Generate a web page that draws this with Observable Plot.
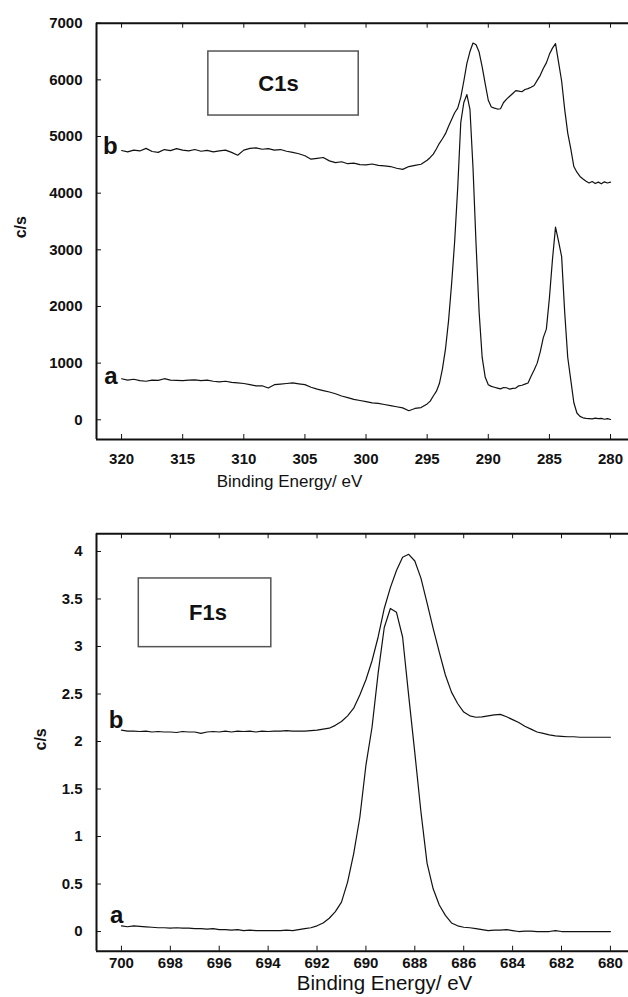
<!DOCTYPE html>
<html>
<head>
<meta charset="utf-8">
<script src="https://cdn.jsdelivr.net/npm/d3@7"></script>
<script src="https://cdn.jsdelivr.net/npm/@observablehq/plot@0.6"></script>
<style>
  body { margin: 0; background: #fff; }
  #chart { width: 628px; }
  #chart svg { display: block; }
</style>
</head>
<body>
<div id="chart"></div>
<script>
// ---- C1s region: binding energy (eV) and count rate (c/s) ----
const c1sEnergy = [
  320, 319.5, 319, 318.5, 318, 317.5, 317, 316.5, 316, 315.5,
  315, 314.5, 314, 313.5, 313, 312.5, 312, 311.5, 311, 310.5,
  310, 309.5, 309, 308.5, 308, 307.5, 307, 306.5, 306, 305.5,
  305, 304.5, 304, 303.5, 303, 302.5, 302, 301.5, 301, 300.5,
  300, 299.5, 299, 298.5, 298, 297.5, 297, 296.5, 296, 295.5,
  295, 294.75, 294.5, 294.25, 294, 293.75, 293.5, 293.25, 293, 292.75,
  292.5, 292.25, 292, 291.75, 291.5, 291.25, 291, 290.75, 290.5, 290.25,
  290, 289.75, 289.5, 289.25, 289, 288.75, 288.5, 288.25, 288, 287.75,
  287.5, 287.25, 287, 286.75, 286.5, 286.25, 286, 285.75, 285.5, 285.25,
  285, 284.75, 284.5, 284.25, 284, 283.75, 283.5, 283.25, 283, 282.75,
  282.5, 282.25, 282, 281.75, 281.5, 281.25, 281, 280.75, 280.5, 280.25,
  280
];
const c1sA = [
  724, 700, 715, 690, 680, 700, 695, 725, 700, 695,
  690, 700, 705, 690, 700, 680, 670, 680, 660, 650,
  640, 620, 600, 600, 560, 620, 630, 640, 650, 635,
  620, 575, 540, 515, 490, 460, 420, 390, 360, 340,
  320, 300, 290, 270, 250, 230, 210, 160, 200, 215,
  280, 330, 420, 500, 640, 900, 1250, 1750, 2400, 3150,
  4100, 5250, 5600, 5740, 5480, 4450, 3100, 1900, 1100, 750,
  620, 590, 575, 560, 545, 570, 565, 540, 555, 560,
  600, 610, 630, 650, 770, 880, 1000, 1200, 1450, 1600,
  2150, 2830, 3400, 3150, 2880, 1900, 1100, 700, 300, 120,
  60, 35, 25, 20, 15, 30, 20, 25, 10, 20,
  5
];
const c1sB = [
  4753, 4730, 4760, 4745, 4790, 4735, 4720, 4770, 4750, 4785,
  4760, 4745, 4770, 4740, 4755, 4730, 4745, 4760, 4720, 4670,
  4760, 4790, 4800, 4775, 4785, 4760, 4770, 4740, 4720, 4695,
  4660, 4600, 4615, 4630, 4570, 4540, 4555, 4520, 4530, 4505,
  4500, 4515, 4490, 4480, 4470, 4440, 4420, 4470, 4490, 4510,
  4580, 4630, 4690, 4780, 4880, 4960, 5050, 5180, 5300, 5420,
  5500, 5690, 5980, 6290, 6500, 6650, 6620, 6490, 6230, 5930,
  5640, 5520, 5500, 5485, 5490, 5600, 5660, 5710, 5760, 5810,
  5800, 5790, 5830, 5845, 5870, 5900, 5990, 6080, 6200, 6300,
  6450, 6560, 6640, 6310, 5980, 5480, 5060, 4780, 4470, 4370,
  4295, 4250, 4210, 4180, 4205, 4170, 4195, 4165, 4200, 4180,
  4195
];
const c1sTicksX = [320, 315, 310, 305, 300, 295, 290, 285, 280];
const c1sTicksY = [0, 1000, 2000, 3000, 4000, 5000, 6000, 7000];

// ---- F1s region ----
const f1sEnergy = [
  700, 699.75, 699.5, 699.25, 699, 698.75, 698.5, 698.25, 698, 697.75,
  697.5, 697.25, 697, 696.75, 696.5, 696.25, 696, 695.75, 695.5, 695.25,
  695, 694.75, 694.5, 694.25, 694, 693.75, 693.5, 693.25, 693, 692.75,
  692.5, 692.25, 692, 691.75, 691.5, 691.25, 691, 690.75, 690.5, 690.25,
  690, 689.75, 689.5, 689.25, 689, 688.75, 688.5, 688.25, 688, 687.75,
  687.5, 687.25, 687, 686.75, 686.5, 686.25, 686, 685.75, 685.5, 685.25,
  685, 684.75, 684.5, 684.25, 684, 683.75, 683.5, 683.25, 683, 682.75,
  682.5, 682.25, 682, 681.75, 681.5, 681.25, 681, 680.75, 680.5, 680.25,
  680
];
const f1sA = [
  0.06, 0.05, 0.06, 0.055, 0.05, 0.045, 0.04, 0.04, 0.035, 0.04,
  0.035, 0.035, 0.03, 0.03, 0.025, 0.03, 0.02, 0.02, 0.015, 0.02,
  0.01, 0.015, 0.01, 0.01, 0.01, 0.01, 0.01, 0.015, 0.01, 0.02,
  0.03, 0.04, 0.06, 0.09, 0.14, 0.21, 0.31, 0.52, 0.82, 1.2,
  1.75, 2.15, 2.72, 3.2, 3.4, 3.36, 3.1, 2.48, 1.88, 1.26,
  0.72, 0.45, 0.28, 0.17, 0.09, 0.06, 0.045, 0.04, 0.03, 0.02,
  0.01, 0.015, 0.015, 0.02, 0.01, 0, 0.005, 0.005, 0, 0,
  0, 0.01, 0, 0, 0, 0, 0, 0, 0, 0,
  0
];
const f1sB = [
  2.12, 2.11, 2.11, 2.105, 2.11, 2.1, 2.105, 2.1, 2.1, 2.095,
  2.105, 2.1, 2.1, 2.085, 2.1, 2.105, 2.1, 2.11, 2.1, 2.11,
  2.105, 2.11, 2.1, 2.11, 2.105, 2.11, 2.11, 2.115, 2.11, 2.11,
  2.11, 2.115, 2.12, 2.13, 2.14, 2.17, 2.21, 2.27, 2.35, 2.49,
  2.65, 2.85, 3.1, 3.4, 3.62, 3.8, 3.94, 3.97, 3.9, 3.72,
  3.46, 3.19, 2.94, 2.7, 2.52, 2.4, 2.31, 2.27, 2.255, 2.26,
  2.27, 2.28, 2.285, 2.26, 2.23, 2.2, 2.16, 2.13, 2.1, 2.085,
  2.07, 2.06, 2.055, 2.05, 2.05, 2.045, 2.045, 2.045, 2.045, 2.045,
  2.045
];
const f1sTicksX = [700, 698, 696, 694, 692, 690, 688, 686, 684, 682, 680];
const f1sTicksY = [0, 0.5, 1, 1.5, 2, 2.5, 3, 3.5, 4];

const FONT = "'Liberation Sans', Arial, Helvetica, sans-serif";
const INK = "#111";
const WIDTH = 628;
const MARGIN_LEFT = 96;
const TICK = 5; // inward tick length, px

function spectrumPanel(cfg) {
  const rows = cfg.energy.map((e, i) => ({energy: e, a: cfg.a[i], b: cfg.b[i]}));
  const start = rows[0];
  const frameH = cfg.height - cfg.marginTop - cfg.marginBottom;
  const frameW = WIDTH - MARGIN_LEFT;
  return Plot.plot({
    width: WIDTH,
    height: cfg.height,
    marginTop: cfg.marginTop,
    marginBottom: cfg.marginBottom,
    marginLeft: MARGIN_LEFT,
    marginRight: 0,
    style: {fontFamily: FONT, fontSize: "15px", fontWeight: "bold", color: INK, background: "#fff", overflow: "visible"},
    x: {domain: cfg.xDomain},
    y: {domain: cfg.yDomain},
    marks: [
      // frame: left, top and bottom edges
      Plot.ruleX([cfg.xDomain[0]], {stroke: INK, strokeWidth: 2}),
      Plot.ruleY([cfg.yDomain[0]], {stroke: INK, strokeWidth: 2}),
      Plot.ruleY([cfg.yDomain[1]], {stroke: INK, strokeWidth: 2}),
      // inward-pointing tick marks on bottom, top and left edges
      Plot.tickX(cfg.xTicks, {x: d => d, insetTop: frameH - TICK, stroke: INK, strokeWidth: 1}),
      Plot.tickX(cfg.xTicks, {x: d => d, insetBottom: frameH - TICK, stroke: INK, strokeWidth: 1}),
      Plot.tickY(cfg.yTicks, {y: d => d, insetRight: frameW - TICK, stroke: INK, strokeWidth: 1}),
      // tick labels
      Plot.axisX({anchor: "bottom", ticks: cfg.xTicks, tickSize: 0, tickPadding: cfg.xTickPadding,
                  tickFormat: d => String(d), label: null}),
      Plot.axisY({anchor: "left", ticks: cfg.yTicks, tickSize: 0, tickPadding: 14,
                  tickFormat: d => String(d), label: null}),
      // boxed region name
      Plot.rect([cfg.box], {x1: "x1", x2: "x2", y1: "y1", y2: "y2", fill: "none", stroke: "#555", strokeWidth: 1.5}),
      Plot.text([cfg.box], {x: d => (d.x1 + d.x2) / 2, y: d => (d.y1 + d.y2) / 2, text: "name",
                            fontSize: 22, dx: cfg.boxTextDx, fill: INK}),
      // spectra
      Plot.line(rows, {x: "energy", y: "b", stroke: INK, strokeWidth: 1.2}),
      Plot.line(rows, {x: "energy", y: "a", stroke: INK, strokeWidth: 1.2}),
      // curve tags at the start of each trace
      Plot.text([start], {x: "energy", y: "b", text: () => "b", textAnchor: "end", fontSize: 24,
                          dx: cfg.tagDx, dy: cfg.tagDyB, fill: INK}),
      Plot.text([start], {x: "energy", y: "a", text: () => "a", textAnchor: "end", fontSize: 24,
                          dx: cfg.tagDx, dy: cfg.tagDyA, fill: INK}),
      // axis titles
      Plot.text(["Binding Energy/ eV"], {frameAnchor: "bottom", text: d => d, lineAnchor: "top",
                                         dx: cfg.xLabelDx, dy: cfg.xLabelDy, fontSize: cfg.xLabelSize,
                                         fontWeight: "normal", fill: INK}),
      Plot.text(["c/s"], {frameAnchor: "left", text: d => d, rotate: -90, dx: cfg.yLabelDx, dy: cfg.yLabelDy,
                          fontSize: 16, fill: INK})
    ]
  });
}

const chart = document.getElementById("chart");

chart.append(spectrumPanel({
  energy: c1sEnergy, a: c1sA, b: c1sB,
  height: 490, marginTop: 22.7, marginBottom: 51,
  xDomain: [322.05, 278.53], yDomain: [-348, 7000],
  xTicks: c1sTicksX, yTicks: c1sTicksY, xTickPadding: 14.3,
  box: {x1: 312.9, x2: 300.6, y1: 5370, y2: 6500, name: "C1s"}, boxTextDx: -5,
  tagDx: -4, tagDyB: -4, tagDyA: -2,
  xLabelDx: -73, xLabelDy: 35, xLabelSize: 17,
  yLabelDx: -76, yLabelDy: 7
}));

chart.append(spectrumPanel({
  energy: f1sEnergy, a: f1sA, b: f1sB,
  height: 507, marginTop: 43.3, marginBottom: 46.3,
  xDomain: [701.02, 679.26], yDomain: [-0.207, 4.186],
  xTicks: f1sTicksX, yTicks: f1sTicksY, xTickPadding: 6,
  box: {x1: 699.29, x2: 693.87, y1: 2.993, y2: 3.716, name: "F1s"}, boxTextDx: 3,
  tagDx: 2, tagDyB: -10, tagDyA: -11,
  xLabelDx: 22, xLabelDy: 24, xLabelSize: 20.5,
  yLabelDx: -56, yLabelDy: 8
}));
</script>
</body>
</html>
